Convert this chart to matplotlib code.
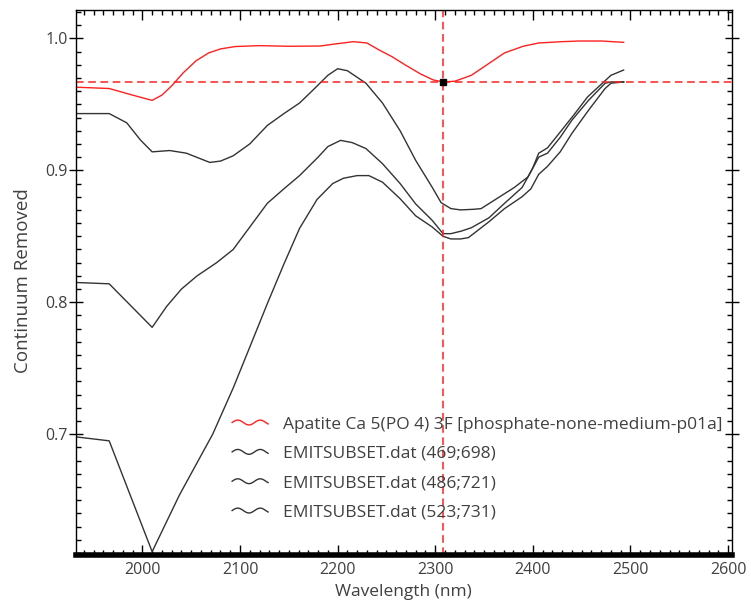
import numpy as np
import matplotlib
matplotlib.use("Agg")
import matplotlib.pyplot as plt
from matplotlib.lines import Line2D
from matplotlib.legend_handler import HandlerLine2D
from matplotlib.ticker import MultipleLocator, FormatStrFormatter

plt.rcParams['font.family'] = ['Open Sans', 'DejaVu Sans']

# reference library spectrum (continuum removed)
ref_wl = [1932, 1966, 1990, 2010, 2020, 2030, 2042, 2055, 2068, 2080, 2095, 2120, 2150,
          2182, 2200, 2216, 2230, 2243, 2256, 2269, 2285, 2298, 2308, 2320, 2337, 2355,
          2371, 2390, 2406, 2430, 2447, 2470, 2493]
ref_val = [0.963, 0.962, 0.957, 0.953, 0.957, 0.964, 0.974, 0.983, 0.989, 0.992, 0.9938, 0.9945, 0.994,
           0.9942, 0.996, 0.9975, 0.9965, 0.991, 0.986, 0.980, 0.973, 0.9685, 0.967, 0.9675, 0.972, 0.981,
           0.989, 0.994, 0.9965, 0.9975, 0.998, 0.998, 0.997]

# pixel spectra from the EMIT subset
px1_wl = [1932, 1966, 1984, 1998, 2010, 2028, 2045, 2069, 2080, 2093, 2110, 2128, 2145, 2161,
          2175, 2190, 2200, 2210, 2229, 2246, 2264, 2280, 2297, 2306, 2316, 2326, 2340, 2347,
          2364, 2381, 2395, 2400, 2406, 2415, 2428, 2442, 2456, 2469, 2480, 2493]
px1_val = [0.943, 0.943, 0.936, 0.923, 0.914, 0.915, 0.913, 0.906, 0.907, 0.911, 0.920, 0.934, 0.943, 0.951,
           0.961, 0.972, 0.977, 0.9755, 0.966, 0.951, 0.930, 0.9075, 0.887, 0.8755, 0.871, 0.870, 0.8705, 0.871,
           0.879, 0.887, 0.895, 0.902, 0.913, 0.917, 0.929, 0.942, 0.9556, 0.9645, 0.972, 0.976]

px2_wl = [1932, 1966, 2010, 2025, 2040, 2056, 2076, 2093, 2110, 2128, 2145, 2161, 2180,
          2190, 2203, 2215, 2229, 2246, 2264, 2280, 2297, 2308, 2316, 2327, 2337, 2355,
          2371, 2389, 2398, 2406, 2415, 2428, 2440, 2457, 2474, 2480, 2493]
px2_val = [0.815, 0.814, 0.781, 0.797, 0.810, 0.820, 0.830, 0.840, 0.857, 0.875, 0.886, 0.896, 0.910,
           0.918, 0.9227, 0.921, 0.9165, 0.905, 0.890, 0.8745, 0.862, 0.852, 0.852, 0.854, 0.8565, 0.864,
           0.875, 0.887, 0.899, 0.910, 0.913, 0.925, 0.938, 0.953, 0.966, 0.967, 0.967]

px3_wl = [1932, 1966, 2010, 2038, 2072, 2093, 2110, 2128, 2145, 2161, 2179, 2195, 2206,
          2220, 2232, 2246, 2264, 2280, 2297, 2308, 2316, 2326, 2334, 2355, 2371, 2389,
          2398, 2406, 2415, 2428, 2440, 2457, 2474, 2480, 2493]
px3_val = [0.698, 0.695, 0.611, 0.654, 0.700, 0.735, 0.766, 0.799, 0.829, 0.856, 0.878, 0.890, 0.894,
           0.896, 0.896, 0.891, 0.8785, 0.8655, 0.857, 0.850, 0.848, 0.848, 0.849, 0.861, 0.871, 0.880,
           0.886, 0.897, 0.903, 0.914, 0.928, 0.9455, 0.962, 0.966, 0.967]

labels = ["Apatite Ca 5(PO 4) 3F [phosphate-none-medium-p01a]",
          "EMITSUBSET.dat (469;698)",
          "EMITSUBSET.dat (486;721)",
          "EMITSUBSET.dat (523;731)"]

cursor_wl = 2308
cursor_val = 0.967

txt = '#404040'
red = '#ff2020'


class WavyHandler(HandlerLine2D):
    # little squiggle instead of a straight legend sample
    def create_artists(self, legend, orig, xdescent, ydescent, width, height, fontsize, trans):
        t = np.linspace(0, 1, 40)
        xs = -xdescent + t * width
        ys = -ydescent + height / 2 + 0.2 * height * np.sin(2 * np.pi * 1.6 * t)
        ln = Line2D(xs, ys, color=orig.get_color(), lw=orig.get_linewidth())
        ln.set_transform(trans)
        return [ln]


fig = plt.figure(figsize=(7.51, 6.06), dpi=100)
ax = fig.add_axes([0.1012, 0.0842, 0.8735, 0.8993])

l0, = ax.plot(ref_wl, ref_val, color=red, lw=1.0, label=labels[0])
l1, = ax.plot(px1_wl, px1_val, color='#333333', lw=1.0, label=labels[1])
l2, = ax.plot(px2_wl, px2_val, color='#333333', lw=1.0, label=labels[2])
l3, = ax.plot(px3_wl, px3_val, color='#333333', lw=1.0, label=labels[3])

ax.axvline(cursor_wl, color=red, lw=1.1, ls=(0, (5, 3)))
ax.axhline(cursor_val, color=red, lw=1.1, ls=(0, (5, 3)))
ax.plot([cursor_wl], [cursor_val], marker='s', ms=5, color='black', ls='none')

ax.set_xlim(1932, 2604)
ax.set_ylim(0.6085, 1.0215)

ax.xaxis.set_major_locator(MultipleLocator(100))
ax.xaxis.set_minor_locator(MultipleLocator(10))
ax.yaxis.set_major_locator(MultipleLocator(0.1))
ax.yaxis.set_minor_locator(MultipleLocator(0.01))
ax.yaxis.set_major_formatter(FormatStrFormatter('%.1f'))

ax.tick_params(which='both', direction='in', top=True, right=True, colors='black',
               labelcolor=txt, labelsize=11.5, width=1.0)
ax.tick_params(which='major', length=7)
ax.tick_params(which='minor', length=3.5)
ax.tick_params(axis='y', which='major', direction='inout', length=10, left=True, pad=1)
ax.tick_params(axis='x', pad=5)

for side in ['left', 'right', 'top']:
    ax.spines[side].set_linewidth(1.0)
ax.spines['bottom'].set_linewidth(4)

ax.set_xlabel('Wavelength (nm)', color=txt, fontsize=12.5)
ax.set_ylabel('Continuum Removed', color=txt, fontsize=13.5)
ax.xaxis.set_label_coords(0.499, -0.053)
ax.yaxis.set_label_coords(-0.067, 0.503)

ax.legend(handles=[l0, l1, l2, l3], loc='lower left', bbox_to_anchor=(0.238, 0.063),
          borderaxespad=0, borderpad=0, frameon=False, fontsize=12.5,
          handlelength=2.07, handletextpad=0.86, labelspacing=0.76, labelcolor=txt,
          handler_map={Line2D: WavyHandler()})

fig.savefig('out.png', dpi=100)
